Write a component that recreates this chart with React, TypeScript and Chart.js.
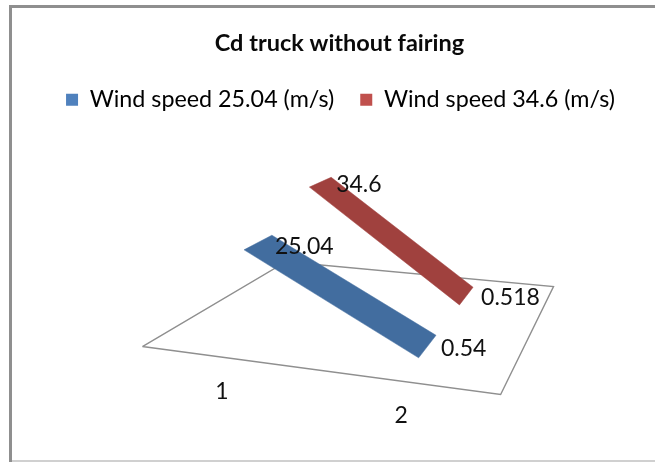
import React, { useEffect, useRef } from "react";
import { Chart, registerables } from "chart.js";

Chart.register(...registerables);

const chartTitle = "Cd truck without fairing";
const categories = ["1", "2"];
const seriesNames = ["Wind speed 25.04 (m/s)", "Wind speed 34.6 (m/s)"];
const blueValues = [25.04, 0.54];
const redValues = [34.6, 0.518];
const blueLabels = ["25.04", "0.54"];
const redLabels = ["34.6", "0.518"];

const FONT = "Lato, Carlito, Calibri, sans-serif";
const legendColors = ["#4F81BD", "#C0504D"];
const ribbonColors = ["#426D9F", "#A0413E"];
const floorColor = "#8f8f8f";

// 3D projection of the Excel-style floor: corners of the plotted floor in canvas space
const floorFL = { x: 142, y: 347 };
const floorFR = { x: 501, y: 395 };
const floorBR = { x: 554, y: 287 };
const floorBL = { x: 286, y: 262 };
const catU = [0.25, 0.75];
const depthBands = [
  [0.1, 0.33],
  [0.64, 0.82],
];
const axisBase = -3.6;
const heightAtFront = 3.58;
const heightFalloff = 0.944;

function project(u: number, v: number, value: number) {
  const fx = floorFL.x + (floorFR.x - floorFL.x) * u;
  const fy = floorFL.y + (floorFR.y - floorFL.y) * u;
  const bx = floorBL.x + (floorBR.x - floorBL.x) * u;
  const by = floorBL.y + (floorBR.y - floorBL.y) * u;
  const k = heightAtFront - heightFalloff * v;
  return {
    x: fx + (bx - fx) * v,
    y: fy + (by - fy) * v - (value - axisBase) * k,
  };
}

function floorPoint(u: number, v: number) {
  return project(u, v, axisBase);
}

function ribbon(values: number[], band: number[]) {
  return [
    project(catU[0], band[0], values[0]),
    project(catU[0], band[1], values[0]),
    project(catU[1], band[1], values[1]),
    project(catU[1], band[0], values[1]),
    project(catU[0], band[0], values[0]),
  ];
}

const labelNudges = [
  [
    [3, 11],
    [5, 13],
  ],
  [
    [5, 7],
    [8, 10],
  ],
];
const catLabelOffset = { x: -10, y: 33 };
const titleShift = 12;
const legendShift = 13;

const scenePlugin = {
  id: "sceneText",
  afterLayout(chart: any) {
    chart.titleBlock.left += titleShift;
    chart.titleBlock.right += titleShift;
    chart.legend.left += legendShift;
    chart.legend.right += legendShift;
  },
  afterDatasetsDraw(chart: any) {
    const { ctx, scales } = chart;
    ctx.save();
    ctx.fillStyle = "#111";
    ctx.font = `23px ${FONT}`;
    ctx.textBaseline = "middle";
    ctx.textAlign = "left";
    [blueValues, redValues].forEach((vals, s) => {
      const texts = s === 0 ? blueLabels : redLabels;
      vals.forEach((val, c) => {
        const p = project(catU[c], depthBands[s][1], val);
        ctx.fillText(
          texts[c],
          scales.x.getPixelForValue(p.x) + labelNudges[s][c][0],
          scales.y.getPixelForValue(p.y) + labelNudges[s][c][1]
        );
      });
    });
    ctx.textAlign = "center";
    categories.forEach((cat, c) => {
      const p = floorPoint(catU[c], 0);
      ctx.fillText(
        cat,
        scales.x.getPixelForValue(p.x) + catLabelOffset.x,
        scales.y.getPixelForValue(p.y) + catLabelOffset.y
      );
    });
    ctx.restore();
  },
};

export default function App() {
  const ref = useRef<HTMLCanvasElement | null>(null);
  useEffect(() => {
    document.body.style.margin = "0";
    const chart = new Chart(ref.current as HTMLCanvasElement, {
      type: "scatter",
      data: {
        datasets: [
          {
            label: seriesNames[0],
            data: ribbon(blueValues, depthBands[0]),
            showLine: true,
            fill: "shape",
            backgroundColor: ribbonColors[0],
            borderColor: ribbonColors[0],
            borderWidth: 0.5,
            pointRadius: 0,
            tension: 0,
            order: 1,
          },
          {
            label: seriesNames[1],
            data: ribbon(redValues, depthBands[1]),
            showLine: true,
            fill: "shape",
            backgroundColor: ribbonColors[1],
            borderColor: ribbonColors[1],
            borderWidth: 0.5,
            pointRadius: 0,
            tension: 0,
            order: 2,
          },
          {
            label: "floor",
            data: [floorFL, floorFR, floorBR, floorBL, floorFL],
            showLine: true,
            fill: false,
            borderColor: floorColor,
            borderWidth: 1.4,
            pointRadius: 0,
            tension: 0,
            order: 3,
          },
        ],
      } as any,
      options: {
        animation: false,
        responsive: false,
        layout: { padding: 0 },
        events: [],
        plugins: {
          title: {
            display: true,
            text: chartTitle,
            color: "#0a0a0a",
            font: { family: FONT, size: 23.5, weight: "bold" },
            padding: { top: 29, bottom: 5 },
          },
          legend: {
            display: true,
            position: "top",
            labels: {
              boxWidth: 12,
              boxHeight: 12,
              padding: 26,
              color: "#1a1a1a",
              font: { family: FONT, size: 23.3 },
              generateLabels: () =>
                seriesNames.map((name, i) => ({
                  text: name,
                  fillStyle: legendColors[i],
                  strokeStyle: legendColors[i],
                  lineWidth: 0,
                  datasetIndex: i,
                  hidden: false,
                })),
            },
          },
          tooltip: { enabled: false },
        },
        scales: {
          x: { type: "linear", display: false, min: 0, max: 655 },
          y: { type: "linear", display: false, min: 0, max: 462, reverse: true },
        },
      } as any,
      plugins: [scenePlugin],
    });
    (chart.options as any).scales.y.min = chart.chartArea.top;
    chart.update();
    return () => chart.destroy();
  }, []);
  return (
    <div style={{ position: "relative", width: 655, height: 462, overflow: "hidden", background: "#fff" }}>
      <canvas ref={ref} width={655} height={462} style={{ display: "block" }} />
      <div
        style={{
          position: "absolute",
          left: 9,
          top: 5,
          width: 660,
          height: 460,
          boxSizing: "border-box",
          borderLeft: "3px solid #8f8f8f",
          borderTop: "3px solid #8f8f8f",
          pointerEvents: "none",
        }}
      />
      <div style={{ position: "absolute", left: 12, right: 0, top: 460, height: 2, background: "#d0d0d0" }} />
    </div>
  );
}
